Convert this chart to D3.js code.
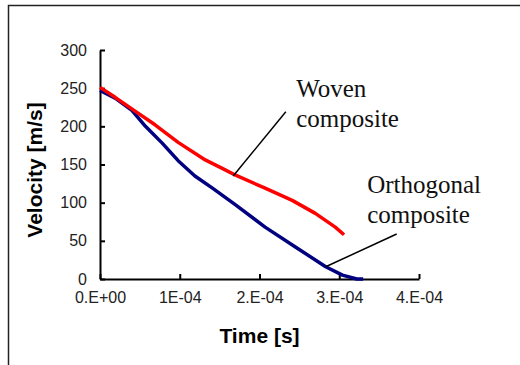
<!DOCTYPE html>
<html>
<head>
<meta charset="utf-8">
<script src="https://cdn.jsdelivr.net/npm/d3@7"></script>
<style>
    body { margin: 0; background: #fff; }
    svg { display: block; }
</style>
</head>
<body>
<div id="chart"></div>
<script>

// ------------------------------------------------------------------
// Data (time in seconds, velocity in m/s)
// ------------------------------------------------------------------
var wovenTime = [0, 0.19e-4, 0.44e-4, 0.69e-4, 0.98e-4, 1.32e-4, 1.57e-4, 1.70e-4, 2.07e-4, 2.41e-4, 2.70e-4, 2.95e-4, 3.06e-4];
var wovenVelocity = [251, 238, 220, 202, 179, 156, 143, 136, 119, 103, 86, 68, 58];

var orthoTime = [0, 0.19e-4, 0.40e-4, 0.57e-4, 0.78e-4, 0.98e-4, 1.19e-4, 1.41e-4, 1.70e-4, 2.07e-4, 2.45e-4, 2.83e-4, 3.04e-4, 3.22e-4, 3.30e-4];
var orthoVelocity = [247, 237, 221, 200, 178, 155, 135, 119, 97, 68, 42, 16, 5, 0, 0];

var xTicks = [0, 1e-4, 2e-4, 3e-4, 4e-4];
var xTickLabels = ["0.E+00", "1E-04", "2.E-04", "3.E-04", "4.E-04"];
var yTicks = [0, 50, 100, 150, 200, 250, 300];

var width = 520, height = 365;
var margin = { top: 50, right: 101, bottom: 86, left: 100 };

var svg = d3.select("#chart").append("svg")
    .attr("width", width)
    .attr("height", height);

// outer frame (only top and left edges show in the picture)
svg.append("rect")
    .attr("x", 8.5).attr("y", 5.5)
    .attr("width", 540).attr("height", 400)
    .attr("fill", "none")
    .attr("stroke", "#222")
    .attr("stroke-width", 1.5);

var x = d3.scaleLinear().domain([0, 4e-4]).range([margin.left, width - margin.right]);
var y = d3.scaleLinear().domain([0, 300]).range([height - margin.bottom, margin.top]);

// ------------------------------------------------------------------
// Axes
// ------------------------------------------------------------------
var xAxis = d3.axisBottom(x)
    .tickValues(xTicks)
    .tickSizeInner(-5)
    .tickSizeOuter(0)
    .tickPadding(13)
    .tickFormat(function(d, i) { return xTickLabels[i]; });

var yAxis = d3.axisLeft(y)
    .tickValues(yTicks)
    .tickSizeInner(-5)
    .tickSizeOuter(0)
    .tickPadding(13);

var gx = svg.append("g")
    .attr("transform", "translate(0," + y(0) + ")")
    .call(xAxis);

var gy = svg.append("g")
    .attr("transform", "translate(" + x(0) + ",0)")
    .call(yAxis);

[gx, gy].forEach(function(g) {
    g.selectAll("path, line").attr("stroke", "#000").attr("stroke-width", 2);
    g.selectAll("text")
        .attr("fill", "#222")
        .style("font-family", "'Liberation Sans', Arial, sans-serif")
        .style("font-size", "16px");
});
gx.selectAll("text").attr("dy", "0.71em");

// axis titles
svg.append("text")
    .attr("x", (x(0) + x(4e-4)) / 2)
    .attr("y", 343)
    .attr("text-anchor", "middle")
    .style("font-family", "'Liberation Sans', Arial, sans-serif")
    .style("font-weight", "bold")
    .style("font-size", "21px")
    .text("Time [s]");

svg.append("text")
    .attr("transform", "translate(42," + 170 + ") rotate(-90)")
    .attr("text-anchor", "middle")
    .style("font-family", "'Liberation Sans', Arial, sans-serif")
    .style("font-weight", "bold")
    .style("font-size", "21px")
    .text("Velocity [m/s]");

// ------------------------------------------------------------------
// Series
// ------------------------------------------------------------------
var line = d3.line()
    .x(function(d) { return x(d[0]); })
    .y(function(d) { return y(d[1]); });

var woven = d3.zip(wovenTime, wovenVelocity);
var ortho = d3.zip(orthoTime, orthoVelocity);

svg.append("path")
    .datum(ortho)
    .attr("d", line)
    .attr("fill", "none")
    .attr("stroke", "#000080")
    .attr("stroke-width", 3.5)
    .attr("stroke-linejoin", "round");

svg.append("path")
    .datum(woven)
    .attr("d", line)
    .attr("fill", "none")
    .attr("stroke", "#ff0000")
    .attr("stroke-width", 3.5)
    .attr("stroke-linejoin", "round");

// ------------------------------------------------------------------
// Annotations
// ------------------------------------------------------------------
var notes = [
    { from: [1.67e-4, 135], to: [2.33e-4, 219], at: [2.46e-4, 238], lines: ["Woven", "composite"] },
    { from: [2.83e-4, 16], to: [3.72e-4, 59], at: [3.35e-4, 113], lines: ["Orthogonal", "composite"] }
];

notes.forEach(function(n) {
    svg.append("line")
        .attr("x1", x(n.from[0])).attr("y1", y(n.from[1]))
        .attr("x2", x(n.to[0])).attr("y2", y(n.to[1]))
        .attr("stroke", "#000")
        .attr("stroke-width", 1.5);

    var t = svg.append("text")
        .attr("x", x(n.at[0]))
        .attr("y", y(n.at[1]))
        .style("font-family", "'Liberation Serif', 'Times New Roman', serif")
        .style("font-size", "25px")
        .attr("fill", "#111");

    n.lines.forEach(function(s, i) {
        t.append("tspan")
            .attr("x", x(n.at[0]))
            .attr("dy", i === 0 ? 0 : 30)
            .text(s);
    });
});

</script>
</body>
</html>
